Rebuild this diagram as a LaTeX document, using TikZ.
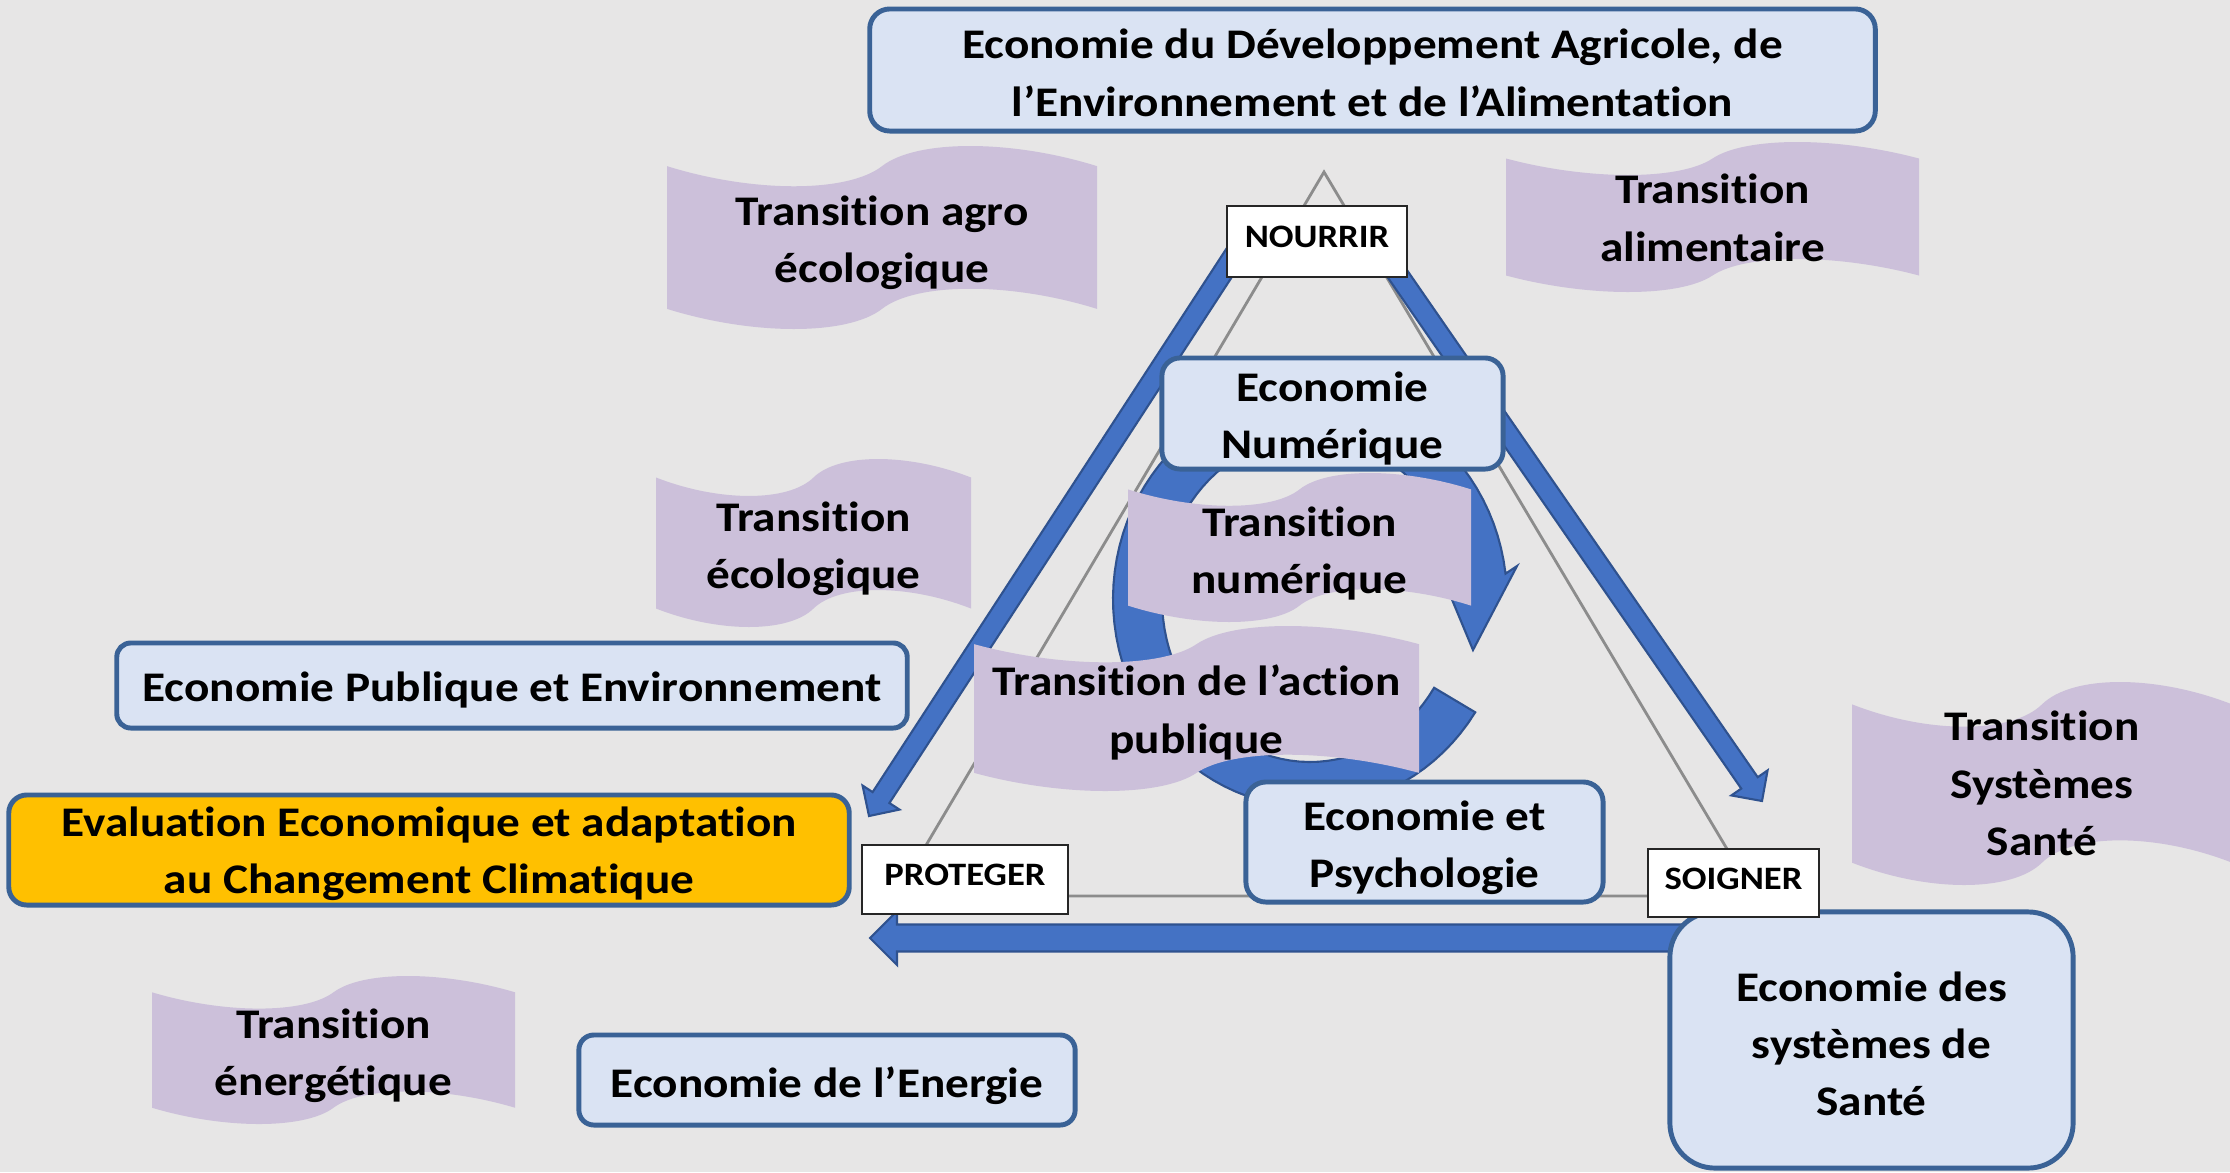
\documentclass[tikz,border=0pt]{standalone}
\usepackage{fontspec}
\setmainfont{Carlito}[FakeStretch=1.12, Ligatures={NoCommon}]
\usetikzlibrary{calc}
\definecolor{bgc}{HTML}{E7E6E6}
\definecolor{boxfill}{HTML}{DAE3F3}
\definecolor{boxedge}{HTML}{3A6296}
\definecolor{ribc}{HTML}{CCC0DA}
\definecolor{orangec}{HTML}{FFC000}
\definecolor{arrowc}{HTML}{4472C4}
\definecolor{arrowedge}{HTML}{2F528F}
\definecolor{trigray}{HTML}{8C8C8C}
\newcommand{\mainfnt}{\fontsize{12}{16.3}\selectfont\bfseries}
\newcommand{\smallfnt}{\fontsize{9.3}{11}\selectfont\bfseries}
% ribbon: name, x0, y0, x1, y1, text shift, text  (pixel coordinates, y downwards)
\newcommand{\ribbonnode}[7]{%
  \pgfmathsetmacro{\rW}{#4-#2}%
  \pgfmathsetmacro{\rM}{(#2+#4)/2}%
  \pgfmathsetmacro{\rA}{0.11*(#5-#3)}%
  \pgfmathsetmacro{\rK}{1.333*\rA}%
  \fill[ribfill] ({#2},{#3+\rA})
     .. controls ({#2+0.2*\rW},{#3+\rA+\rK}) and ({#2+0.42*\rW},{#3+\rA+\rK}) .. ({\rM},{#3+\rA})
     .. controls ({#2+0.58*\rW},{#3+\rA-\rK}) and ({#2+0.8*\rW},{#3+\rA-\rK}) .. ({#4},{#3+\rA})
     -- ({#4},{#5-\rA})
     .. controls ({#2+0.8*\rW},{#5-\rA-\rK}) and ({#2+0.58*\rW},{#5-\rA-\rK}) .. ({\rM},{#5-\rA})
     .. controls ({#2+0.42*\rW},{#5-\rA+\rK}) and ({#2+0.2*\rW},{#5-\rA+\rK}) .. ({#2},{#5-\rA})
     -- cycle;
  \node[ribtext] (#1) at ({\rM},{(#3+#5)/2+#6}) {#7};}
% block arrow: start, tip, half shaft width, half head width, head length
\newcommand{\bluearrow}[5]{%
  \coordinate (bah) at ($(#2)!#5!(#1)$);
  \filldraw[bluearr] ($(#1)!#3!90:(#2)$) -- ($(bah)!#3!-90:(#1)$) -- ($(bah)!#4!-90:(#1)$) -- (#2)
     -- ($(bah)!#4!90:(#1)$) -- ($(bah)!#3!90:(#1)$) -- ($(#1)!#3!-90:(#2)$) -- cycle;}
\begin{document}
\begin{tikzpicture}[x=0.01cm, y=-0.01cm,
  ebox/.style={draw=boxedge, fill=boxfill, line width=1.4pt, inner sep=0pt},
  btext/.style={align=center, inner sep=0pt, font=\mainfnt},
  wbox/.style={draw=black!85, fill=white, line width=0.5pt, inner sep=0pt, font=\smallfnt, text depth=0.09cm},
  ribfill/.style={fill=ribc},
  ribtext/.style={align=center, inner sep=0pt, font=\mainfnt},
  bluearr/.style={fill=arrowc, draw=arrowedge, line width=0.6pt},
  tri/.style={draw=trigray, line width=0.8pt}]
\useasboundingbox (0,0) rectangle (2230,1172);
\clip (0,0) rectangle (2230,1172);
\fill[bgc] (0,0) rectangle (2230,1172);

% circular arrow
\filldraw[bluearr] plot[domain=33:353, samples=90] ({1310+197*cos(\x)},{599+208*sin(\x)})
   -- (1517,566) -- (1473,650) -- (1443,578)
   -- plot[domain=353:33, samples=90] ({1310+148*cos(\x)},{599+163*sin(\x)}) -- cycle;

% triangle
\coordinate (tA) at (1324,172);
\coordinate (tB) at (896,896);
\coordinate (tC) at (1755,896);
\draw[tri] (tA) -- (tB) -- (tC) -- cycle;

% block arrows
\coordinate (L0) at (1244,240);
\coordinate (L1) at (869,816);
\coordinate (R0) at (1374,240);
\coordinate (R1) at (1762,801);
\coordinate (B0) at (1690,938);
\coordinate (B1) at (870,938);
\bluearrow{L0}{L1}{0.1cm}{0.22cm}{0.22cm}
\bluearrow{R0}{R1}{0.1cm}{0.22cm}{0.22cm}
\bluearrow{B0}{B1}{0.135cm}{0.27cm}{0.27cm}

% ribbons
\ribbonnode{rAgro}{667}{146}{1097}{329}{5}{Transition agro\\écologique}
\ribbonnode{rAlim}{1506}{142}{1919}{292}{1}{Transition\\alimentaire}
\ribbonnode{rEco}{656}{459}{971}{627}{6}{Transition\\écologique}
\ribbonnode{rNum}{1128}{473}{1471}{622}{6}{Transition\\numérique}
\ribbonnode{rAct}{974}{626}{1419}{791}{4}{Transition de l’action\\publique}
\ribbonnode{rEner}{152}{976}{515}{1124}{6}{Transition\\énergétique}
\ribbonnode{rSante}{1852}{682}{2232}{885}{0}{Transition\\Systèmes\\Santé}

% boxes
\node[ebox, minimum width=10.05cm, minimum height=1.22cm, rounded corners=0.2cm] (top) at (1372.5,70) {};
\node[btext] (topT) at (1372.5,73)
  {Economie du Développement Agricole, de\\l’Environnement et de l’Alimentation};
\node[ebox, minimum width=3.41cm, minimum height=1.11cm, rounded corners=0.18cm] (num) at (1332.5,413.5) {};
\node[btext] (numT) at (1332.5,418.5) {Economie\\Numérique};
\node[ebox, minimum width=3.57cm, minimum height=1.20cm, rounded corners=0.2cm] (psy) at (1424.5,842) {};
\node[btext] (psyT) at (1424.5,848) {Economie et\\Psychologie};
\node[ebox, minimum width=7.90cm, minimum height=0.85cm, rounded corners=0.14cm] (pub) at (512,685.5) {};
\node[btext] (pubT) at (512,689.5) {Economie Publique et Environnement};
\node[ebox, fill=orangec, minimum width=8.40cm, minimum height=1.10cm, rounded corners=0.18cm] (eval) at (429,850) {};
\node[btext] (evalT) at (429,854) {Evaluation Economique et adaptation\\au Changement Climatique};
\node[ebox, minimum width=4.96cm, minimum height=0.90cm, rounded corners=0.15cm] (ener) at (827,1080) {};
\node[btext] (enerT) at (827,1086) {Economie de l’Energie};
\node[ebox, minimum width=4.03cm, minimum height=2.56cm, rounded corners=0.45cm] (sante) at (1871.5,1040) {};
\node[btext] (santeT) at (1871.5,1044) {Economie des\\systèmes de\\Santé};

% corner labels
\node[wbox, minimum width=1.80cm, minimum height=0.71cm] (nourrir) at (1317,241.5) {NOURRIR};
\node[wbox, minimum width=2.06cm, minimum height=0.69cm] (proteger) at (965,879.5) {PROTEGER};
\node[wbox, minimum width=1.71cm, minimum height=0.68cm] (soigner) at (1733.5,883) {SOIGNER};
\end{tikzpicture}
\end{document}
